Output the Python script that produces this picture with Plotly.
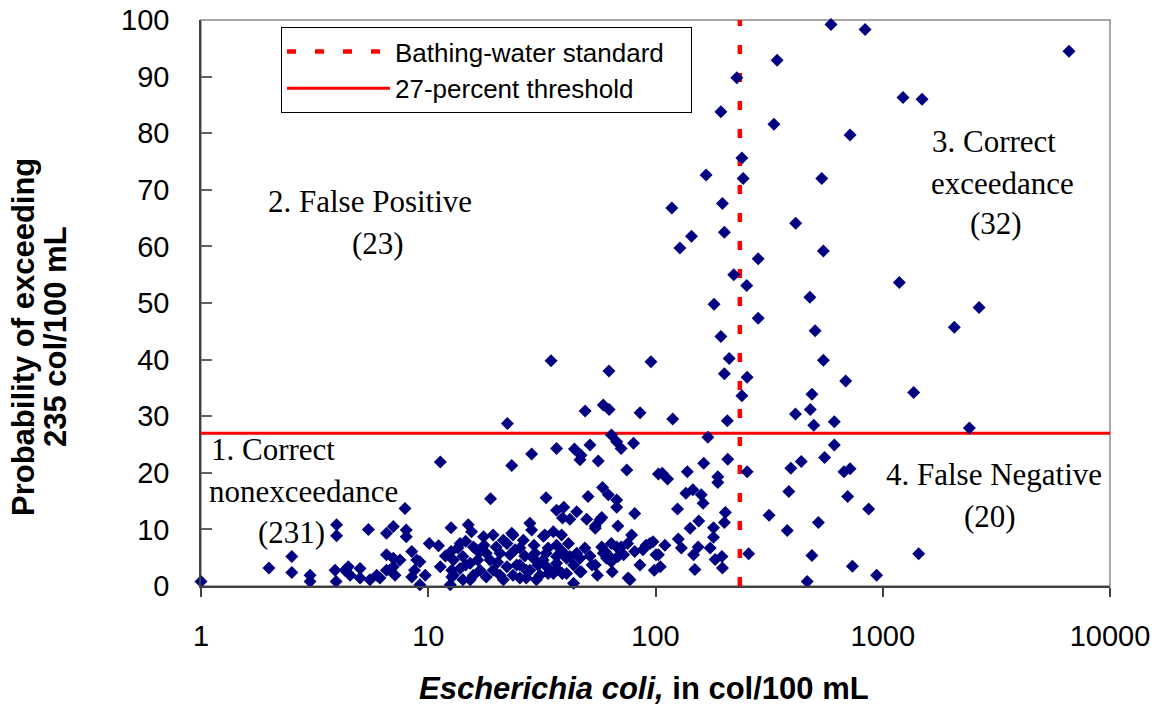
import plotly.graph_objects as go

# ---- data: E. coli (col/100 mL) vs probability of exceeding 235 col/100 mL (%) ----
# Quadrant 1: correct nonexceedance
q1_x = [1.0, 1.99, 2.51, 2.51, 3.02, 3.02, 3.95, 3.95, 3.89, 3.93,
        4.30, 4.53, 4.45, 5.01, 5.01, 5.45, 5.54, 5.93, 6.55, 7.02,
        6.55, 7.02, 6.79, 6.13, 7.14, 7.51, 7.9, 8.0, 8.0, 8.46,
        8.9, 8.7, 8.46, 9.19, 10.1, 11.1, 7.02, 6.55,
        11.3, 12.6, 15.0, 15.5, 11.3, 12.5, 12.7, 12.6, 13.8, 17.5,
        19.3, 22.2, 23.6, 26.2, 28.0, 28.5, 32.6, 35.5, 18.8, 23.3,
        28.5, 36.7, 33.0, 36.7, 33.0, 29.5, 25.3, 22.9, 20.7, 18.7,
        16.9, 15.8, 14.2, 12.9, 12.7, 13.8, 15.3, 16.9, 19.3, 22.2,
        25.3, 27.0, 30.4, 33.2, 36.7, 31.0, 27.0, 23.6, 20.7, 18.0,
        15.8, 14.2, 12.9, 16.3, 18.0, 19.9, 21.4, 24.5, 28.0, 29.9,
        29.0, 32.1, 23.3, 14.6, 9.19,
        38.6, 41.4, 36.7, 40.6, 43.6, 45.0, 47.1, 40.6, 35.5, 43.6,
        54.3, 58.0, 60.0, 60.9, 63.9, 68.3, 70.7, 75.8, 81.0, 88.0,
        94.5, 98.8, 100.5, 44.0, 47.0, 51.5, 46.5, 56.0, 50.5, 58.5,
        62.0, 67.5, 67.5, 81.0, 39.5, 45.0, 39.0, 42.0, 49.8, 54.3,
        58.0, 68.3, 78.5, 75.4, 64.0, 67.5, 70.6, 80.0, 74.8, 103,
        32.0, 36.7, 38.9, 42.0, 46.5, 36.7, 33.7, 38.9, 46.5, 52.6,
        58.9, 63.9, 67.5, 72.4, 63.9, 77.2, 90.9, 97.5, 103, 110,
        105, 57.0, 54.3,
        208, 163, 107, 113, 138, 188, 188, 136, 146, 159,
        162, 125, 203, 201, 155, 142, 180, 180, 126, 130,
        154, 174, 147, 183, 196, 149, 197, 170,
        11.9, 13.5, 14.6, 16.5, 17.6, 20.2, 21.4, 24.1, 26.6, 29.2,
        33.7, 48.9, 51.5, 55.5, 64.5, 85.4, 9.7, 15.3, 25.3]
q1_y = [0.8, 3.2, 5.2, 2.4, 1.9, 0.8, 10.8, 8.9, 2.8, 0.8,
        2.8, 1.9, 3.4, 3.1, 1.4, 10.0, 1.1, 1.9, 9.3, 10.5,
        5.5, 4.9, 2.8, 1.4, 1.9, 4.6, 13.7, 9.9, 8.7, 6.1,
        4.6, 2.8, 1.6, 0.2, 7.5, 7.1, 3.4, 2.8,
        21.9, 10.3, 10.8, 9.6, 3.4, 0.2, 1.6, 6.1, 7.5, 8.7,
        9.0, 7.5, 9.0, 8.1, 11.1, 9.9, 9.0, 9.6, 15.4, 21.3,
        23.3, 24.3, 15.6, 13.4, 5.8, 5.8, 6.7, 5.5, 5.8, 4.6,
        6.1, 6.9, 5.2, 4.6, 2.8, 3.1, 4.0, 2.8, 2.8, 3.4,
        3.7, 2.8, 3.7, 3.4, 4.0, 1.9, 1.4, 1.9, 1.9, 1.6,
        1.9, 1.1, 1.9, 6.4, 5.8, 6.9, 1.1, 3.7, 2.8, 1.1,
        4.9, 8.8, 9.3, 7.9, 4.3,
        9.0, 7.5, 7.2, 4.9, 3.7, 5.8, 2.5, 2.2, 2.2, 0.5,
        3.7, 6.9, 6.1, 4.9, 4.3, 5.2, 6.9, 1.4, 6.1, 6.4,
        7.5, 2.8, 5.5, 24.2, 23.1, 24.9, 22.3, 22.1, 15.8, 17.4,
        16.1, 15.2, 13.9, 12.8, 13.9, 13.1, 12.0, 11.8, 11.8, 10.6,
        12.1, 10.6, 9.0, 7.5, 26.7, 25.5, 24.3, 25.2, 20.5, 19.8,
        4.6, 5.2, 6.1, 5.2, 4.9, 3.1, 2.2, 2.2, 2.5, 3.7,
        5.8, 4.9, 6.9, 5.5, 7.5, 1.1, 7.2, 7.8, 5.5, 7.2,
        3.4, 11.7, 10.2,
        22.4, 21.7, 19.9, 18.9, 20.2, 19.3, 18.3, 16.4, 17.0, 16.1,
        14.6, 13.6, 13.0, 11.2, 11.5, 10.2, 10.3, 8.6, 8.3, 6.7,
        6.9, 6.7, 5.5, 4.7, 5.2, 2.9, 3.2, 26.3,
        5.3, 6.7, 3.7, 4.6, 7.2, 4.2, 8.1, 6.4, 5.3, 7.2,
        6.7, 6.7, 5.3, 1.9, 2.5, 3.7, 1.9, 1.1, 1.4]

# Quadrant 2: false positive
q2_x = [228, 194, 167, 197, 118, 201, 144, 128, 221, 181, 194, 211,
        201, 95.5, 62.4, 34.7, 58.9, 62.5, 85.5, 119, 207, 49, 22.3]
q2_y = [89.8, 83.8, 72.6, 67.6, 66.8, 62.5, 61.8, 59.7, 55.0, 49.8, 44.1, 40.2,
        37.5, 39.6, 38.0, 39.8, 32.0, 31.2, 30.6, 29.5, 29.2, 30.9, 28.7]

# Quadrant 3: correct exceedance
q3_x = [592, 836, 6600, 343, 1228, 1489, 332, 718, 240, 243, 539, 414,
        548, 283, 252, 1183, 478, 2654, 283, 2065, 504, 548, 253, 687,
        1368, 240, 488, 413, 480, 497, 612, 2405]
q3_y = [99.2, 98.3, 94.5, 92.9, 86.3, 86.0, 81.6, 79.7, 75.6, 72.0, 72.0, 64.1,
        59.2, 57.8, 53.1, 53.6, 51.0, 49.2, 47.3, 45.7, 45.1, 39.9, 36.9, 36.2,
        34.2, 33.6, 33.9, 30.4, 31.2, 28.4, 29.0, 27.9]

# Quadrant 4: false negative
q4_x = [253, 394, 438, 555, 612, 675, 718, 386, 701, 867, 316, 380,
        521, 257, 488, 1439, 735, 940, 465]
q4_y = [20.2, 20.8, 22.0, 22.7, 24.9, 20.2, 20.7, 16.7, 15.8, 13.6, 12.5, 9.8,
        11.2, 5.7, 5.4, 5.7, 3.5, 1.9, 0.8]

standard = 235        # bathing-water standard, col/100 mL
threshold = 27        # percent
x_ticks = [1, 10, 100, 1000, 10000]
y_ticks = list(range(0, 101, 10))

quadrant_labels = [
    ("2. False Positive", 370, 201), ("(23)", 378, 243),
    ("1. Correct", 273, 449), ("nonexceedance", 303, 491), ("(231)", 291, 532),
    ("3. Correct", 994, 141), ("exceedance", 1002, 183), ("(32)", 996, 223),
    ("4. False Negative", 994, 474), ("(20)", 990, 516),
]

# ---- geometry ----
W, H = 1159, 706
L, R, T, B = 201, 1110, 20, 586


def px(xp):
    return (xp - L) / (R - L)


def py(yp):
    return (B - yp) / (B - T)


SANS = "Liberation Sans, Arial, sans-serif"
SERIF = "Liberation Serif, Times New Roman, serif"
PADR = "\u00a0" * 3   # pads legend box to the reference width

all_x = q1_x + q2_x + q3_x + q4_x
all_y = q1_y + q2_y + q3_y + q4_y

fig = go.Figure()
fig.add_trace(go.Scatter(
    x=[standard, standard], y=[0, 100], mode="lines",
    line=dict(color="#ff0000", width=4.5, dash="9px,19px"),
    name="Bathing-water standard" + PADR, cliponaxis=False))
fig.add_trace(go.Scatter(
    x=[x_ticks[0], x_ticks[-1]], y=[threshold, threshold], mode="lines",
    line=dict(color="#ff0000", width=3),
    name="27-percent threshold", cliponaxis=False))
fig.add_trace(go.Scatter(
    x=all_x, y=all_y, mode="markers",
    marker=dict(symbol="diamond", size=10, color="#000080", line=dict(width=0)),
    showlegend=False, cliponaxis=False, hoverinfo="x+y"))

annotations = []
for text, xx, yy in quadrant_labels:
    annotations.append(dict(
        text=text, x=px(xx), y=py(yy), xref="paper", yref="paper",
        xanchor="center", yanchor="middle", showarrow=False,
        font=dict(family=SERIF, size=31, color="#000000")))

annotations += [
    dict(text="<b>Probability of exceeding</b>", x=px(23), y=py(337),
         xref="paper", yref="paper", textangle=-90, showarrow=False,
         xanchor="center", yanchor="middle",
         font=dict(family=SANS, size=31, color="#000000")),
    dict(text="<b>235 col/100 mL</b>", x=px(55), y=py(337),
         xref="paper", yref="paper", textangle=-90, showarrow=False,
         xanchor="center", yanchor="middle",
         font=dict(family=SANS, size=31, color="#000000")),
    dict(text="<b><i>Escherichia coli,</i> in col/100 mL</b>", x=px(644), y=py(688),
         xref="paper", yref="paper", showarrow=False,
         xanchor="center", yanchor="middle",
         font=dict(family=SANS, size=31, color="#000000")),
]

fig.update_layout(
    width=W, height=H,
    margin=dict(l=L, r=W - R, t=T, b=H - B, pad=0, autoexpand=False),
    paper_bgcolor="white", plot_bgcolor="white",
    showlegend=True,
    legend=dict(x=px(281), y=py(27), xanchor="left", yanchor="top",
                bgcolor="white", bordercolor="#000000", borderwidth=1,
                font=dict(family=SANS, size=26, color="#000000"),
                itemwidth=103, tracegroupgap=0),
    annotations=annotations,
    shapes=[dict(type="rect", xref="paper", yref="paper", x0=0, x1=1, y0=0, y1=1,
                 line=dict(color="#8c8c8c", width=1.5), layer="below")],
    xaxis=dict(type="log", range=[0, 4], tickvals=x_ticks,
               ticktext=[str(v) for v in x_ticks], automargin=False,
               ticks="outside", ticklen=9, tickwidth=1.5, tickcolor="#404040",
               showline=True, linecolor="#404040", linewidth=1.5,
               showgrid=False, zeroline=False, ticklabelstandoff=14,
               tickfont=dict(family=SANS, size=29, color="#000000")),
    yaxis=dict(range=[0, 100], tickvals=y_ticks, automargin=False,
               ticks="inside", ticklen=11, tickwidth=1.5, tickcolor="#606060",
               showline=True, linecolor="#404040", linewidth=1.5,
               showgrid=False, zeroline=False, ticklabelstandoff=24,
               tickfont=dict(family=SANS, size=29, color="#000000")),
)

fig.write_html(
    "out.html",
    config={"displayModeBar": False},
    post_script="document.body.style.margin='0';document.body.style.overflow='hidden';",
)
